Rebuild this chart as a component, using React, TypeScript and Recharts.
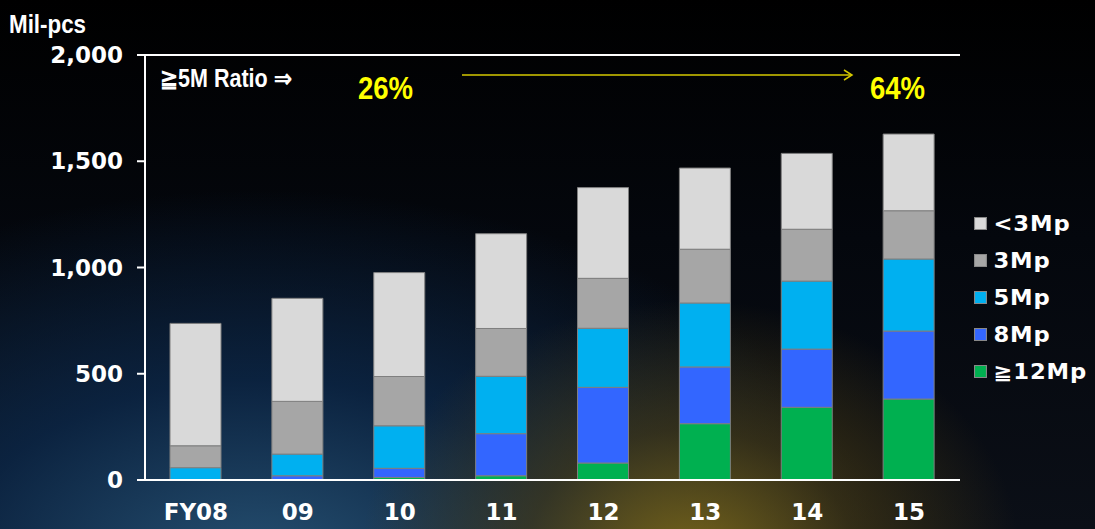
import * as React from "react"
import { BarChart, Bar, XAxis, YAxis, ReferenceLine } from "recharts"

const years = ["FY08", "09", "10", "11", "12", "13", "14", "15"]
const mp12 = [0, 0, 12, 20, 80, 265, 342, 381]
const mp8 = [0, 20, 43, 198, 356, 267, 274, 320]
const mp5 = [58, 102, 200, 270, 278, 301, 320, 339]
const mp3 = [103, 248, 232, 225, 235, 253, 244, 227]
const under3 = [576, 485, 489, 446, 427, 382, 357, 361]
const yTicks = [0, 500, 1000, 1500, 2000]

const series = [
  { key: "mp12", name: "≧12Mp", color: "#00B050" },
  { key: "mp8", name: "8Mp", color: "#3366FF" },
  { key: "mp5", name: "5Mp", color: "#00B0F0" },
  { key: "mp3", name: "3Mp", color: "#A6A6A6" },
  { key: "under3", name: "<3Mp", color: "#D9D9D9" },
]

const data = years.map((year, i) => ({
  year,
  mp12: mp12[i],
  mp8: mp8[i],
  mp5: mp5[i],
  mp3: mp3[i],
  under3: under3[i],
}))

const boldFont = "'DejaVu Sans', Verdana, sans-serif"
const narrowFont = "'Liberation Sans', Arial, sans-serif"

// condensed bold text like the original slide font
function Narrow({ left, top, size, color, children }: any) {
  return (
    <div
      style={{
        position: "absolute",
        left,
        top,
        fontFamily: narrowFont,
        fontWeight: "bold",
        fontSize: size,
        color,
        lineHeight: 1,
        whiteSpace: "nowrap",
        transform: "scaleX(0.86)",
        transformOrigin: "left top",
      }}
    >
      {children}
    </div>
  )
}

function LegendList() {
  return (
    <div
      style={{
        position: "absolute",
        left: 974,
        top: 205,
        fontFamily: boldFont,
        fontWeight: "bold",
        fontSize: 21,
        letterSpacing: 0.8,
        color: "#fff",
        transform: "scaleX(1.08)",
        transformOrigin: "left top",
      }}
    >
      {[...series].reverse().map((s) => (
        <div key={s.key} style={{ display: "flex", alignItems: "center", height: 37 }}>
          <span
            style={{
              display: "inline-block",
              width: 10,
              height: 11,
              background: s.color,
              border: "1px solid #888",
              marginRight: 6,
            }}
          />
          {s.name}
        </div>
      ))}
    </div>
  )
}

export default function App() {
  return (
    <div
      style={{
        position: "fixed",
        left: 0,
        top: 0,
        width: 1095,
        height: 529,
        overflow: "hidden",
        background:
          "radial-gradient(ellipse 330px 260px at 690px 560px, rgba(125,105,25,0.95), rgba(78,64,20,0.6) 50%, rgba(0,0,0,0) 100%), radial-gradient(ellipse 620px 380px at 260px 570px, rgba(40,85,120,0.95), rgba(12,42,78,0.75) 50%, rgba(0,0,0,0) 100%), linear-gradient(180deg, #000 0%, #04070d 45%, #0b0f17 100%)",
      }}
    >
      <BarChart
        width={1095}
        height={529}
        data={data}
        barSize={51}
        margin={{ top: 55, right: 135, bottom: 0, left: 0 }}
      >
        <XAxis
          dataKey="year"
          height={49}
          axisLine={{ stroke: "#fff", strokeWidth: 2 }}
          tickLine={false}
          tick={{ fill: "#fff", fontSize: 23, fontWeight: "bold", fontFamily: boldFont }}
          dy={16}
        />
        <YAxis
          domain={[0, 2000]}
          ticks={yTicks}
          width={145}
          axisLine={{ stroke: "#fff", strokeWidth: 2 }}
          tickLine={{ stroke: "#fff", strokeWidth: 2 }}
          tickSize={8}
          tickMargin={14}
          tickFormatter={(v: number) => v.toLocaleString("en-US")}
          tick={{ fill: "#fff", fontSize: 23, fontWeight: "bold", fontFamily: boldFont }}
          interval={0}
        />
        <YAxis
          yAxisId="r"
          orientation="right"
          width={0}
          domain={[0, 2000]}
          tick={false}
          tickLine={false}
          axisLine={{ stroke: "#fff", strokeWidth: 2 }}
        />
        <ReferenceLine y={2000} stroke="#fff" strokeWidth={2} />
        {series.map((s) => (
          <Bar
            key={s.key}
            dataKey={s.key}
            name={s.name}
            stackId="a"
            fill={s.color}
            stroke="#7f7f7f"
            strokeWidth={1}
            isAnimationActive={false}
          />
        ))}
      </BarChart>

      <LegendList />
      <Narrow left={9} top={11} size={26} color="#fff">Mil-pcs</Narrow>
      <Narrow left={160} top={66} size={25} color="#fff">≧5M Ratio ⇒</Narrow>
      <Narrow left={358} top={72} size={32} color="#FFFF00">26%</Narrow>
      <Narrow left={870} top={72} size={32} color="#FFFF00">64%</Narrow>
      <svg style={{ position: "absolute", left: 455, top: 66 }} width={405} height={20}>
        <line x1={7} y1={9} x2={396} y2={9} stroke="#D4C800" strokeWidth={1.5} />
        <polyline points="389,4 397,9 389,14" fill="none" stroke="#D4C800" strokeWidth={1.5} />
      </svg>
    </div>
  )
}
